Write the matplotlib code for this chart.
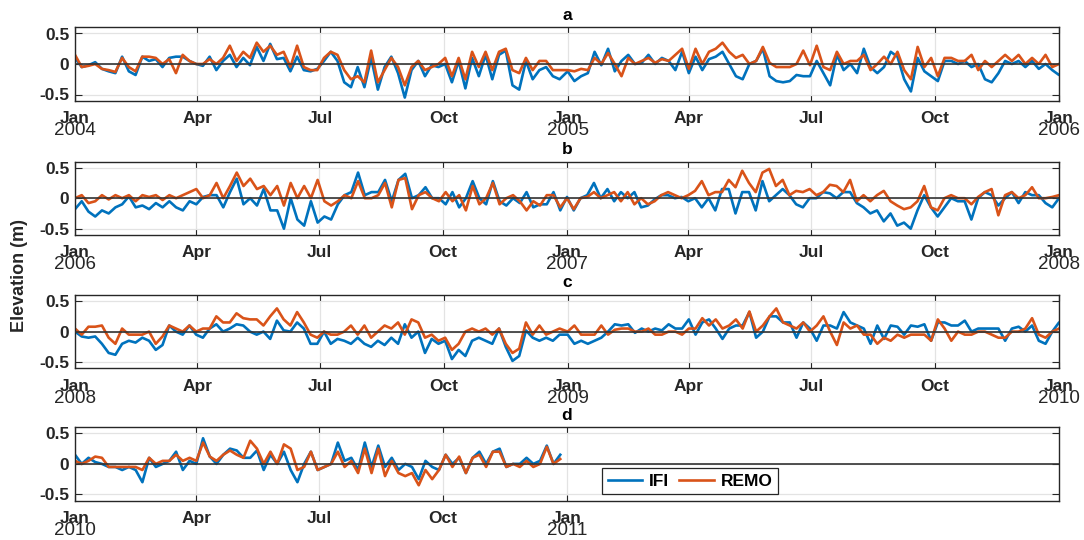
import numpy as np
import matplotlib
matplotlib.use('Agg')
import matplotlib.pyplot as plt
import matplotlib.dates as mdates

plt.rcParams['font.family'] = ['Liberation Sans', 'DejaVu Sans']

# ---------------- data (5-day samples, metres) ----------------
years = [2004, 2005, 2006, 2007, 2008, 2009, 2010]
step_days = 5

ifi_2004 = [0.10, -0.05, -0.02, 0.03, -0.08, -0.12, -0.15, 0.12, -0.12, -0.18,
            0.12, 0.05, 0.08, -0.05, 0.10, 0.12, 0.12, 0.05, 0.00, -0.03,
            0.12, -0.10, 0.05, 0.15, -0.05, 0.10, -0.02, 0.28, 0.05, 0.33,
            0.08, 0.10, -0.12, 0.12, -0.10, -0.12, -0.08, 0.05, 0.20, 0.05,
            -0.30, -0.38, -0.05, -0.38, 0.10, -0.42, -0.05, 0.12, -0.15, -0.55,
            -0.10, 0.05, -0.20, -0.02, -0.05, 0.00, -0.30, 0.05, -0.40, 0.10,
            -0.20, 0.15, -0.25, 0.15, 0.22, -0.35, -0.42, 0.05, -0.25, -0.10,
            -0.05, -0.20, -0.25]
remo_2004 = [0.15, -0.05, -0.03, 0.00, -0.08, -0.10, -0.13, 0.10, -0.05, -0.12,
             0.12, 0.12, 0.10, 0.00, 0.08, -0.15, 0.15, 0.05, 0.00, 0.00,
             0.08, 0.00, 0.10, 0.30, 0.05, 0.20, 0.10, 0.35, 0.20, 0.30,
             0.15, 0.20, -0.05, 0.30, -0.05, -0.10, -0.10, 0.10, 0.20, 0.15,
             -0.10, -0.25, -0.20, -0.30, 0.22, -0.30, -0.10, 0.10, -0.05, -0.35,
             -0.05, 0.05, -0.10, -0.05, 0.00, 0.10, -0.20, 0.10, -0.25, 0.20,
             -0.05, 0.20, -0.10, 0.20, 0.25, -0.10, -0.15, 0.10, -0.10, 0.05,
             0.05, -0.10, -0.10]

ifi_2005 = [-0.12, -0.28, -0.20, -0.15, 0.20, -0.02, 0.25, -0.12, 0.05, 0.15,
            0.00, 0.02, 0.15, 0.00, 0.10, 0.05, -0.10, 0.20, -0.15, 0.12,
            -0.10, 0.08, 0.12, 0.20, 0.00, -0.20, -0.25, 0.00, 0.05, 0.25,
            -0.20, -0.28, -0.30, -0.28, -0.18, -0.20, -0.20, 0.05, -0.15, -0.35,
            0.15, -0.10, 0.00, -0.15, 0.25, -0.05, -0.15, -0.05, 0.20, 0.12,
            -0.25, -0.45, 0.10, -0.12, -0.20, -0.28, 0.05, 0.05, 0.00, 0.05,
            -0.05, 0.00, -0.25, -0.30, -0.15, 0.05, 0.00, 0.05, -0.05, 0.05,
            -0.08, 0.00, -0.10]
remo_2005 = [-0.10, -0.12, -0.08, -0.10, 0.10, 0.00, 0.18, 0.00, -0.20, 0.10,
             0.00, 0.05, 0.10, 0.02, 0.08, 0.05, 0.15, 0.25, -0.08, 0.25,
             0.00, 0.20, 0.25, 0.35, 0.20, 0.10, 0.15, 0.00, 0.05, 0.28,
             0.02, -0.05, -0.05, -0.05, 0.00, 0.22, -0.02, 0.30, -0.05, -0.10,
             0.20, 0.00, 0.05, 0.05, 0.15, -0.10, 0.00, 0.12, 0.00, 0.20,
             -0.10, -0.25, 0.28, -0.05, 0.10, -0.20, 0.10, 0.10, 0.05, 0.05,
             0.15, -0.10, 0.05, -0.05, 0.05, 0.15, 0.05, 0.15, 0.00, 0.10,
             0.00, 0.15, -0.05]

ifi_2006 = [-0.18, -0.05, -0.22, -0.30, -0.20, -0.25, -0.15, -0.10, 0.03, -0.15,
            -0.12, -0.18, -0.08, -0.15, -0.05, -0.15, -0.20, -0.05, -0.10, 0.02,
            0.05, 0.05, -0.15, 0.10, 0.32, -0.10, 0.00, -0.12, 0.15, -0.20,
            -0.20, -0.50, 0.00, -0.35, -0.45, -0.05, -0.40, -0.30, -0.35, -0.10,
            0.05, 0.10, 0.42, 0.05, 0.10, 0.10, 0.30, -0.05, 0.30, 0.40,
            0.00, 0.05, 0.18, 0.00, 0.00, -0.10, 0.10, -0.15, 0.00, 0.28,
            0.00, -0.10, 0.28, -0.05, -0.12, 0.00, -0.08, 0.10, -0.15, -0.10,
            -0.10, 0.10, -0.20]
remo_2006 = [0.00, 0.05, -0.08, -0.05, 0.05, -0.02, 0.05, 0.00, 0.05, -0.05,
             0.05, 0.02, 0.05, -0.03, 0.05, 0.00, 0.05, 0.10, 0.15, 0.00,
             0.05, 0.25, 0.00, 0.20, 0.42, 0.20, 0.32, 0.15, 0.20, 0.05,
             0.20, -0.12, 0.25, 0.00, 0.20, 0.00, 0.30, -0.05, -0.12, -0.05,
             0.05, 0.00, 0.28, 0.00, 0.00, 0.05, 0.25, -0.15, 0.30, 0.33,
             -0.18, 0.05, 0.10, 0.00, -0.05, 0.10, -0.05, 0.05, -0.20, 0.20,
             -0.10, 0.00, 0.25, -0.10, 0.00, 0.05, -0.05, -0.20, -0.05, -0.12,
             0.05, 0.05, -0.15]

ifi_2007 = [0.02, -0.20, 0.00, 0.05, 0.25, 0.00, 0.15, -0.05, 0.10, 0.00,
            0.10, -0.15, -0.12, -0.02, 0.05, 0.05, 0.00, 0.02, -0.05, 0.00,
            -0.15, 0.00, -0.20, 0.15, 0.15, -0.25, 0.10, 0.10, -0.20, 0.28,
            -0.05, 0.05, 0.15, 0.05, -0.10, -0.15, 0.00, 0.00, 0.10, 0.08,
            0.00, 0.10, 0.10, -0.08, -0.15, -0.25, -0.20, -0.38, -0.25, -0.45,
            -0.40, -0.50, -0.20, 0.05, -0.15, -0.30, -0.15, 0.00, -0.05, -0.05,
            -0.35, 0.00, 0.10, 0.05, -0.12, 0.00, 0.10, -0.08, 0.10, 0.05,
            0.05, -0.08, -0.15]
remo_2007 = [0.00, -0.18, 0.00, 0.02, 0.10, 0.00, 0.05, 0.10, -0.05, 0.10,
             -0.10, 0.00, -0.10, -0.05, 0.05, 0.10, 0.05, 0.00, 0.05, 0.12,
             0.28, 0.05, 0.10, 0.10, 0.30, 0.18, 0.45, 0.25, 0.10, 0.42,
             0.48, 0.20, 0.30, 0.05, 0.12, 0.10, 0.15, 0.05, 0.10, 0.22,
             0.20, 0.10, 0.30, -0.05, 0.05, -0.05, 0.05, 0.12, -0.05, -0.12,
             -0.18, -0.15, -0.05, 0.20, -0.15, -0.20, 0.00, 0.05, 0.00, 0.00,
             -0.10, 0.02, 0.10, 0.15, -0.28, 0.05, 0.10, 0.00, 0.05, 0.18,
             0.00, 0.00, 0.02]

ifi_2008 = [0.00, -0.08, -0.10, -0.08, -0.20, -0.35, -0.38, -0.20, -0.15, -0.18,
            -0.10, -0.15, -0.30, -0.22, 0.10, 0.00, -0.05, 0.10, -0.05, -0.10,
            0.05, 0.12, 0.00, 0.05, 0.12, 0.10, 0.00, -0.05, 0.00, -0.12,
            0.18, 0.02, 0.00, 0.15, 0.05, -0.20, -0.20, 0.00, -0.20, -0.12,
            -0.15, -0.20, -0.10, -0.20, -0.25, -0.15, -0.22, -0.10, -0.20, 0.12,
            -0.10, 0.00, -0.35, -0.12, -0.20, -0.15, -0.45, -0.30, -0.40, -0.15,
            -0.10, -0.15, -0.20, 0.05, -0.25, -0.48, -0.40, 0.02, -0.10, -0.15,
            -0.10, -0.15, -0.05]
remo_2008 = [0.05, -0.05, 0.08, 0.08, 0.10, -0.10, -0.20, 0.05, -0.05, -0.05,
             -0.05, 0.00, -0.20, -0.08, 0.10, 0.05, 0.00, 0.10, 0.00, 0.05,
             0.05, 0.25, 0.15, 0.15, 0.30, 0.22, 0.20, 0.20, 0.10, 0.25,
             0.38, 0.20, 0.10, 0.32, 0.15, -0.05, -0.10, 0.00, -0.05, -0.05,
             0.00, 0.10, -0.05, 0.10, -0.10, 0.00, 0.10, 0.05, 0.15, -0.05,
             0.20, 0.15, -0.10, -0.05, -0.15, -0.10, -0.30, -0.20, 0.00, 0.05,
             0.00, 0.05, -0.05, 0.05, -0.20, -0.35, -0.28, 0.15, -0.05, 0.10,
             -0.05, 0.00, 0.05]

ifi_2009 = [-0.05, -0.20, -0.15, -0.20, -0.15, -0.10, 0.00, 0.12, 0.10, 0.12,
            -0.02, 0.05, 0.00, 0.05, 0.02, 0.12, 0.05, 0.05, 0.20, -0.05,
            0.15, 0.20, 0.05, -0.12, 0.05, 0.10, 0.10, 0.32, -0.10, 0.00,
            0.25, 0.25, 0.15, 0.15, -0.10, 0.15, 0.05, -0.15, 0.10, 0.10,
            0.05, 0.32, 0.15, 0.10, 0.05, -0.20, 0.10, -0.12, 0.10, 0.08,
            -0.05, 0.10, 0.08, 0.12, -0.15, 0.15, 0.15, 0.10, 0.10, 0.18,
            0.00, 0.05, 0.05, 0.05, 0.05, -0.15, 0.05, 0.08, 0.00, 0.10,
            -0.15, -0.20, 0.00]
remo_2009 = [0.00, 0.10, -0.05, -0.05, -0.05, 0.10, -0.05, 0.03, 0.05, 0.05,
             0.00, 0.00, 0.05, -0.05, -0.05, 0.00, 0.00, -0.05, 0.05, 0.05,
             0.22, 0.10, 0.20, 0.05, 0.10, 0.20, 0.05, 0.33, 0.00, 0.10,
             0.25, 0.38, 0.15, 0.10, 0.05, 0.15, 0.00, 0.10, 0.25, 0.00,
             -0.22, 0.15, 0.05, 0.10, -0.05, -0.05, -0.20, -0.10, -0.15, -0.05,
             -0.10, -0.05, -0.05, -0.05, -0.15, 0.20, 0.05, -0.15, 0.00, -0.05,
             -0.05, 0.00, 0.00, -0.05, -0.10, -0.10, 0.00, 0.00, 0.05, 0.22,
             -0.05, -0.10, 0.00]

ifi_2010 = [0.15, 0.00, 0.10, 0.03, 0.00, -0.05, -0.05, -0.10, -0.05, -0.10,
            -0.30, 0.10, -0.05, 0.00, 0.05, 0.20, -0.10, 0.05, 0.00, 0.42,
            0.12, 0.00, 0.15, 0.25, 0.22, 0.10, 0.10, 0.22, -0.10, 0.15,
            0.00, 0.20, -0.10, -0.30, 0.00, 0.20, -0.10, -0.05, 0.00, 0.35,
            0.05, 0.10, -0.10, 0.35, -0.05, 0.30, -0.05, 0.10, -0.10, 0.00,
            -0.05, -0.25, 0.05, -0.05, -0.10, 0.15, 0.00, 0.10, -0.15, 0.10,
            0.20, 0.00, 0.20, 0.25, -0.05, 0.00, 0.00, 0.10, 0.00, 0.05,
            0.30, 0.00, 0.15]
remo_2010 = [0.05, 0.00, 0.05, 0.12, 0.10, -0.05, -0.05, -0.05, -0.05, -0.05,
             -0.10, 0.10, 0.00, 0.05, 0.05, 0.15, 0.05, 0.10, 0.05, 0.35,
             0.12, 0.05, 0.15, 0.22, 0.15, 0.10, 0.38, 0.25, 0.00, 0.20,
             0.00, 0.32, 0.25, -0.10, -0.05, 0.20, -0.10, -0.05, 0.00, 0.20,
             -0.05, 0.05, -0.15, 0.25, -0.15, 0.25, -0.20, 0.05, -0.15, -0.20,
             -0.15, -0.35, -0.10, -0.25, -0.10, 0.15, -0.05, 0.12, -0.15, 0.10,
             0.15, -0.05, 0.20, 0.20, -0.05, 0.00, -0.05, 0.05, -0.05, 0.00,
             0.28, 0.00, 0.08]

ifi_by_year = {2004: ifi_2004, 2005: ifi_2005, 2006: ifi_2006, 2007: ifi_2007,
               2008: ifi_2008, 2009: ifi_2009, 2010: ifi_2010}
remo_by_year = {2004: remo_2004, 2005: remo_2005, 2006: remo_2006, 2007: remo_2007,
                2008: remo_2008, 2009: remo_2009, 2010: remo_2010}

series_names = ['IFI', 'REMO']
series_colors = ['#0072BD', '#D95319']
panel_titles = ['a', 'b', 'c', 'd']
panel_start_years = [2004, 2006, 2008, 2010]
panel_last_tick_years = [2006, 2008, 2010, 2011]
month_names = {1: 'Jan', 4: 'Apr', 7: 'Jul', 10: 'Oct'}


def build(by_year):
    d, v = [], []
    for y in years:
        vals = np.asarray(by_year[y], dtype=float)
        start = np.datetime64(f'{y}-01-01')
        d.append(start + np.arange(len(vals)) * np.timedelta64(step_days, 'D'))
        v.append(vals)
    return np.concatenate(d), np.concatenate(v)


ifi_t, ifi_v = build(ifi_by_year)
remo_t, remo_v = build(remo_by_year)

# ---------------- figure ----------------
W, H = 1084, 540
fig = plt.figure(figsize=(W / 100, H / 100), dpi=100)
ax_left, ax_right = 75, 1059
ax_h = 73.2
tops = [27.4, 161.6, 295.0, 427.3]
dark = '#262626'
tick_fs = 12.5

for i, (title, y0, ylast) in enumerate(zip(panel_titles, panel_start_years, panel_last_tick_years)):
    top = tops[i]
    ax = fig.add_axes([ax_left / W, 1 - (top + ax_h) / H, (ax_right - ax_left) / W, ax_h / H])
    l1, = ax.plot(ifi_t, ifi_v, color=series_colors[0], lw=1.9, label=series_names[0], zorder=2)
    l2, = ax.plot(remo_t, remo_v, color=series_colors[1], lw=1.9, label=series_names[1], zorder=2.1)
    ax.axhline(0, color='#333333', lw=1.2, zorder=3)

    x0 = np.datetime64(f'{y0}-01-01')
    x1 = np.datetime64(f'{y0 + 2}-01-01')
    ax.set_xlim(x0, x1)
    ax.set_ylim(-0.6, 0.6)

    ticks = []
    for yy in range(y0, ylast + 1):
        for m in (1, 4, 7, 10):
            t = np.datetime64(f'{yy}-{m:02d}-01')
            if t <= np.datetime64(f'{ylast}-01-01'):
                ticks.append((yy, m, t))
    ax.set_xticks([mdates.date2num(t) for _, _, t in ticks])
    ax.set_xticklabels([month_names[m] for _, m, _ in ticks], fontweight='bold',
                       fontsize=tick_fs, color=dark)
    for yy, m, t in ticks:
        if m == 1:
            ax.annotate(str(yy), xy=(mdates.date2num(t), 0), xycoords=('data', 'axes fraction'),
                        xytext=(0, -15.5), textcoords='offset points', ha='center', va='top',
                        fontsize=13.5, color=dark)

    ax.set_yticks([-0.5, 0, 0.5])
    ax.set_yticklabels(['-0.5', '0', '0.5'], fontweight='bold', fontsize=tick_fs, color=dark)
    ax.tick_params(axis='x', direction='in', length=4, pad=7.5, top=True, colors=dark)
    ax.tick_params(axis='y', direction='in', length=5, pad=4, right=True, colors=dark)
    ax.grid(True, color='#e3e3e3', lw=0.9, zorder=0)
    ax.set_axisbelow(True)
    for s in ax.spines.values():
        s.set_color(dark)
        s.set_linewidth(1.0)
    ax.set_title(title, fontweight='bold', fontsize=12.5, pad=5.5, color='black')

    if i == 3:
        leg = ax.legend(handles=[l1, l2], loc='center', bbox_to_anchor=(0.625, 0.265), ncol=2,
                        prop={'weight': 'bold', 'size': 12.5}, fancybox=False, framealpha=1,
                        edgecolor=dark, handlelength=2.0, handletextpad=0.4, columnspacing=0.55,
                        borderpad=0.3, borderaxespad=0)
        leg.get_frame().set_linewidth(0.9)
        for h in leg.get_lines():
            h.set_linewidth(1.9)

fig.text(20 / W, 1 - 276 / H, 'Elevation (m)', rotation=90, ha='center', va='center',
         fontsize=13, fontweight='bold', color=dark)

fig.savefig('out.png', dpi=100)
